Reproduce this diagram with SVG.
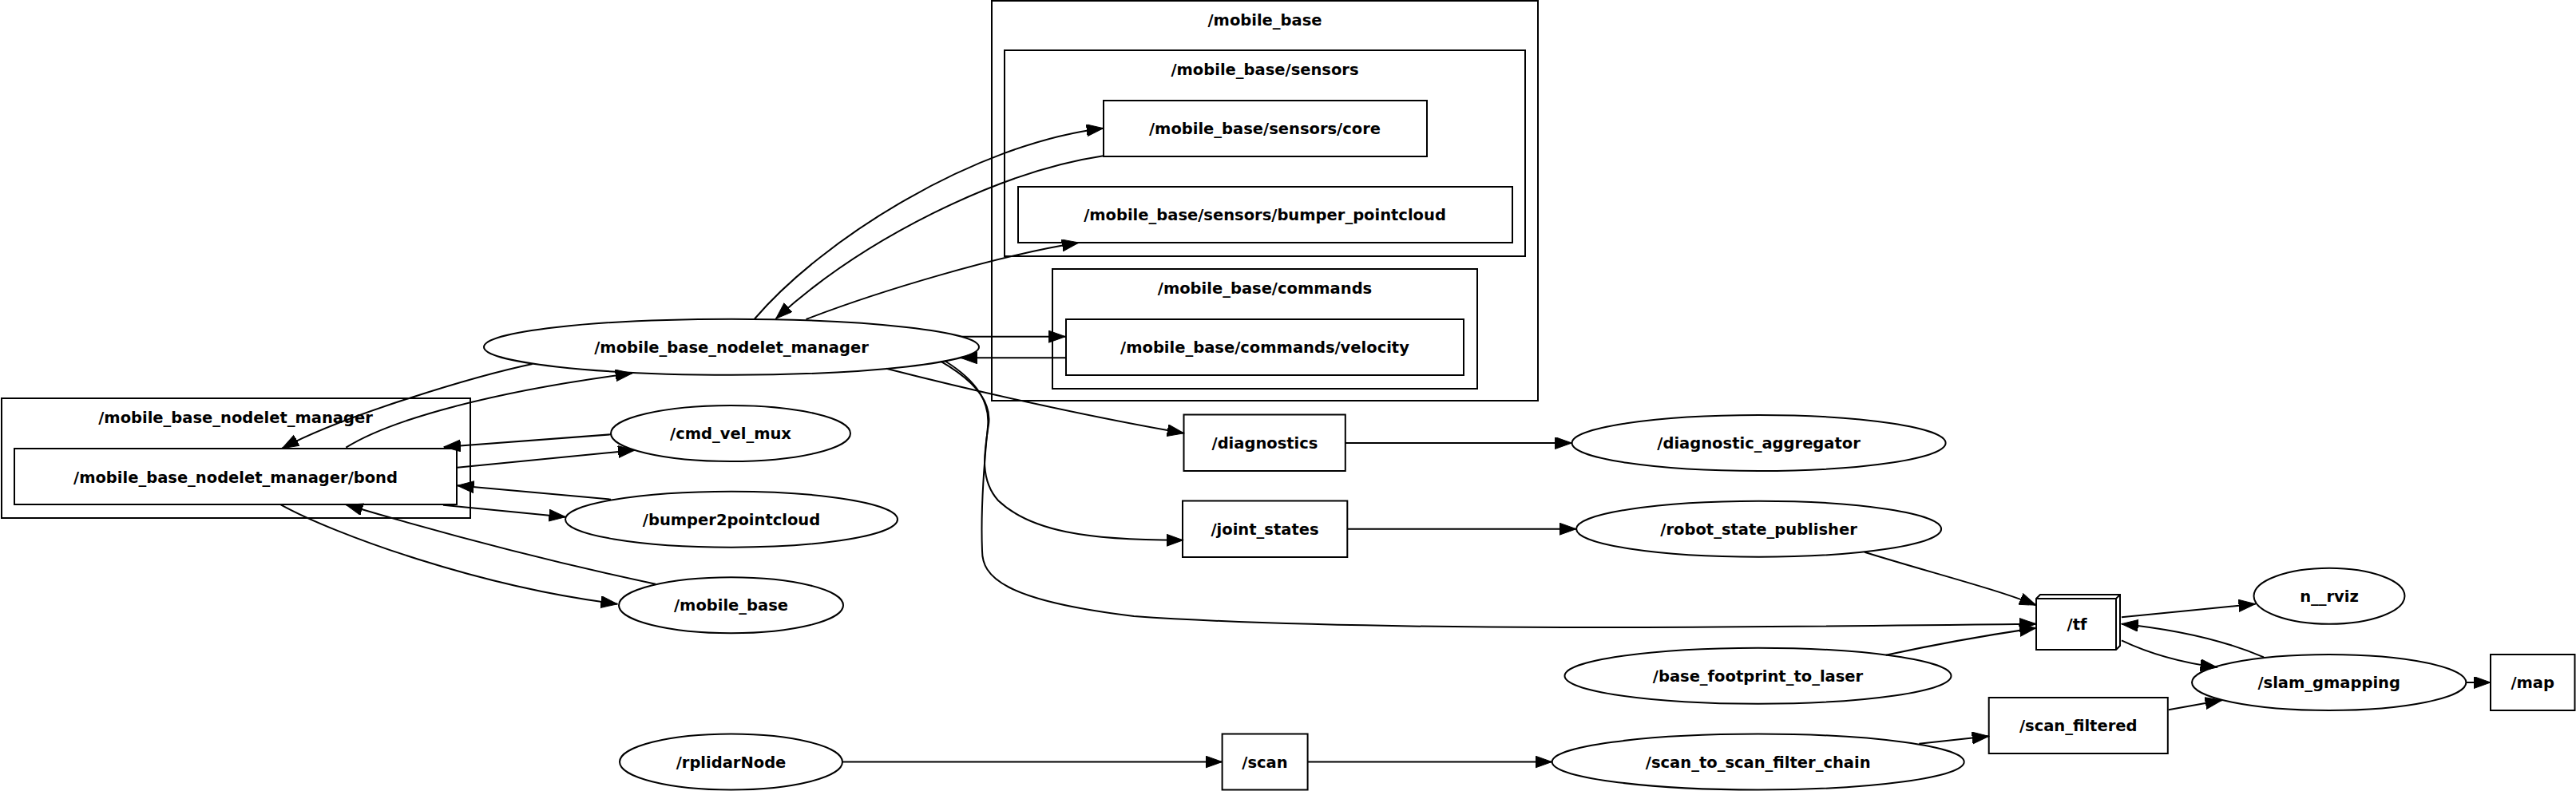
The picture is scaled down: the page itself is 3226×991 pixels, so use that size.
<svg xmlns="http://www.w3.org/2000/svg" width="3226" height="991" viewBox="0 0 3226 991">
<style>
.n{fill:none;stroke:#000;stroke-width:2}
.c{fill:none;stroke:#000;stroke-width:2}
.e{fill:none;stroke:#000;stroke-width:2;marker-end:url(#ah)}
text{font-family:"DejaVu Sans","Liberation Sans",sans-serif;font-weight:bold;font-size:19.5px;text-anchor:middle;fill:#000}
</style>
<defs>
<marker id="ah" markerUnits="userSpaceOnUse" markerWidth="22" markerHeight="16" refX="21" refY="7.5" orient="auto" viewBox="0 0 22 16">
<path d="M0,0 L21,7.5 L0,15 Z" fill="#000" stroke="#000" stroke-width="1"/>
</marker>
</defs>
<rect width="3226" height="991" fill="#fff"/>

<g id="cluster_mobile_base">
<rect class="c" x="1242" y="1" width="684" height="501"/>
<text x="1584" y="32">/mobile_base</text>
</g>
<g id="cluster_mobile_base_sensors">
<rect class="c" x="1258" y="63" width="652" height="258"/>
<text x="1584" y="94">/mobile_base/sensors</text>
</g>
<g id="cluster_mobile_base_commands">
<rect class="c" x="1318" y="337" width="532" height="150"/>
<text x="1584" y="368">/mobile_base/commands</text>
</g>
<g id="cluster_nodelet_manager">
<rect class="c" x="2" y="499" width="587" height="150"/>
<text x="295" y="530">/mobile_base_nodelet_manager</text>
</g>

<g id="edges">
<path class="e" d="M945,399.5 C1030,300 1220,180 1381.7,160.7"/>
<path class="e" d="M1381.7,195.3 C1250,215 1080,300 971.7,399.3"/>
<path class="e" d="M1009.5,400 C1100,365 1250,320 1351,304"/>
<path class="e" d="M1205,421.7 L1334.3,421.7"/>
<path class="e" d="M1334.3,448.3 L1203,448.3"/>
<path class="e" d="M1110,461.7 C1240,495 1380,525 1482.7,542.7"/>
<path class="e" d="M1178,452.7 C1222,478 1242,505 1238,532 C1233,565 1226,600 1250,627 C1290,665 1360,677 1481.7,676.7"/>
<path class="e" d="M1183,452 C1225,478 1240,505 1237,535 C1233,575 1228,640 1230,690 C1230,722 1255,752 1420,772 C1700,792 2200,786 2550,781.7"/>
<path class="e" d="M1684.8,555 L1968.4,555"/>
<path class="e" d="M1687.3,662.7 L1974,662.7"/>
<path class="e" d="M2335,691.7 C2420,718 2500,738 2550,758.3"/>
<path class="e" d="M2361.7,820.7 C2430,806 2500,794 2550,786.7"/>
<path class="e" d="M2403.3,931.7 L2490.7,922.3"/>
<path class="e" d="M2656.9,773.3 L2824.6,756.7"/>
<path class="e" d="M2835,823.3 C2780,800 2720,788 2656.9,781.7"/>
<path class="e" d="M2656.9,802.3 C2690,818 2730,830 2776.6,836"/>
<path class="e" d="M2715.8,889.3 L2782.6,877.3"/>
<path class="e" d="M3088.4,855 L3119,855"/>
<path class="e" d="M1055,954.5 L1530.6,954.5"/>
<path class="e" d="M1637.6,954.5 L1943.5,954.5"/>
<path class="e" d="M666.7,456 C600,470 430,520 353.3,561.7"/>
<path class="e" d="M433.3,560.7 C490,525 620,490 791.7,467.7"/>
<path class="e" d="M765,544.3 L556,560"/>
<path class="e" d="M572.7,585.7 L795,564"/>
<path class="e" d="M765,625.7 L572.7,608.3"/>
<path class="e" d="M555,632.7 L708.3,647.7"/>
<path class="e" d="M821,731.7 C700,706 560,670 433.3,632.3"/>
<path class="e" d="M351.7,632.3 C420,670 600,735 773.3,756.7"/>
</g>

<g id="mobile_base_sensors_core">
<rect class="n" x="1382" y="126" width="405" height="70"/>
<text x="1584" y="168">/mobile_base/sensors/core</text>
</g>
<g id="mobile_base_sensors_bumper_pointcloud">
<rect class="n" x="1275" y="234" width="619" height="70"/>
<text x="1584" y="276">/mobile_base/sensors/bumper_pointcloud</text>
</g>
<g id="mobile_base_commands_velocity">
<rect class="n" x="1335" y="400" width="498" height="70"/>
<text x="1584" y="442">/mobile_base/commands/velocity</text>
</g>
<g id="mobile_base_nodelet_manager">
<ellipse class="n" cx="916" cy="434.7" rx="310" ry="35"/>
<text x="916" y="441.7">/mobile_base_nodelet_manager</text>
</g>
<g id="mobile_base_nodelet_manager_bond">
<rect class="n" x="18" y="562" width="554" height="70"/>
<text x="295" y="605">/mobile_base_nodelet_manager/bond</text>
</g>
<g id="cmd_vel_mux">
<ellipse class="n" cx="915" cy="543" rx="150" ry="35"/>
<text x="915" y="550">/cmd_vel_mux</text>
</g>
<g id="bumper2pointcloud">
<ellipse class="n" cx="916" cy="650.7" rx="208" ry="35"/>
<text x="916" y="657.7">/bumper2pointcloud</text>
</g>
<g id="mobile_base">
<ellipse class="n" cx="915.5" cy="758.3" rx="140.5" ry="35"/>
<text x="915.5" y="765.3">/mobile_base</text>
</g>
<g id="rplidarNode">
<ellipse class="n" cx="915.5" cy="954.5" rx="139.5" ry="35"/>
<text x="915.5" y="961.5">/rplidarNode</text>
</g>
<g id="diagnostics">
<rect class="n" x="1482.5" y="519.5" width="202.3" height="70.5"/>
<text x="1584" y="562">/diagnostics</text>
</g>
<g id="joint_states">
<rect class="n" x="1481" y="627.5" width="206.3" height="70.5"/>
<text x="1584" y="669.7">/joint_states</text>
</g>
<g id="scan">
<rect class="n" x="1530.6" y="919.5" width="107" height="70"/>
<text x="1584" y="961.5">/scan</text>
</g>
<g id="diagnostic_aggregator">
<ellipse class="n" cx="2202.6" cy="555" rx="234" ry="35"/>
<text x="2202.6" y="562">/diagnostic_aggregator</text>
</g>
<g id="robot_state_publisher">
<ellipse class="n" cx="2202.6" cy="662.7" rx="228.5" ry="35"/>
<text x="2202.6" y="669.7">/robot_state_publisher</text>
</g>
<g id="base_footprint_to_laser">
<ellipse class="n" cx="2201.5" cy="846.7" rx="242" ry="35"/>
<text x="2201.5" y="853.7">/base_footprint_to_laser</text>
</g>
<g id="scan_to_scan_filter_chain">
<ellipse class="n" cx="2201.7" cy="954.5" rx="258" ry="35"/>
<text x="2201.7" y="961.5">/scan_to_scan_filter_chain</text>
</g>
<g id="tf">
<polygon class="n" points="2550,750 2555,745 2655,745 2655,809 2650,814 2550,814"/>
<path class="n" d="M2550,750 L2650,750 L2655,745 M2650,750 L2650,814"/>
<text x="2601" y="789">/tf</text>
</g>
<g id="scan_filtered">
<rect class="n" x="2490.7" y="874" width="224.1" height="70"/>
<text x="2602.7" y="916">/scan_filtered</text>
</g>
<g id="n__rviz">
<ellipse class="n" cx="2917" cy="746.7" rx="94.5" ry="35"/>
<text x="2917" y="753.7">n__rviz</text>
</g>
<g id="slam_gmapping">
<ellipse class="n" cx="2916.7" cy="855" rx="171.7" ry="35"/>
<text x="2916.7" y="862">/slam_gmapping</text>
</g>
<g id="map">
<rect class="n" x="3119" y="820" width="105.5" height="70"/>
<text x="3171.7" y="862">/map</text>
</g>
</svg>
